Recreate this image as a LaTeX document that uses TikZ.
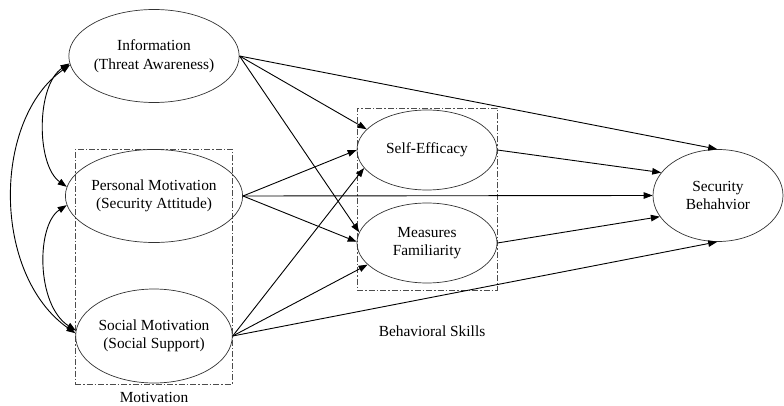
\documentclass[tikz,border=0pt]{standalone}
\usepackage{fontspec}
\setmainfont{Liberation Serif}
\usetikzlibrary{shapes.geometric,arrows.meta}
\begin{document}
\begin{tikzpicture}[x=1pt,y=-1pt,
  txt/.style={font=\fontsize{15.4}{18.5}\selectfont},
  ell/.style={ellipse,draw=black!80,line width=0.7pt,inner sep=0pt,align=center,txt},
  arr/.style={line width=0.9pt,-{Triangle[length=9pt,width=6.5pt]}},
  darr/.style={line width=0.9pt,{Triangle[length=9pt,width=6.5pt]}-{Triangle[length=9pt,width=6.5pt]}},
  grp/.style={draw=black!70,line width=0.7pt,dash pattern=on 6pt off 2pt on 1.5pt off 2pt,inner sep=0pt}]
\useasboundingbox (0,0) rectangle (784,406);
% groups
\node[grp,minimum width=157pt,minimum height=235pt] (mot) at (153.5,266.5) {};
\node[grp,minimum width=140pt,minimum height=182pt] (bsk) at (427,199) {};
% nodes
\node[ell,minimum width=156pt,minimum height=93pt] (I) at (154,56) {Information\\(Threat Awareness)};
\node[ell,minimum width=156pt,minimum height=93pt] (P) at (154,196) {Personal Motivation\\(Security Attitude)};
\node[ell,minimum width=156pt,minimum height=94pt] (S) at (154,336) {Social Motivation\\(Social Support)};
\node[ell,minimum width=140pt,minimum height=80pt] (SE) at (427,150) {Self-Efficacy};
\node[ell,minimum width=140pt,minimum height=80pt] (MF) at (427,243) {Measures\\Familiarity};
\node[ell,minimum width=130pt,minimum height=92pt] (SB) at (718,195.5) {Security\\Behahvior};
% labels
\node[txt] (motl) at (154,397) {Motivation};
\node[txt] (bskl) at (432,331) {Behavioral Skills};
% correlations
\draw[darr] (I.185) .. controls (36,85) and (36,165) .. (P.174);
\draw[darr] (P.186) .. controls (36,225) and (36,305) .. (S.176);
\draw[darr] (I.186) .. controls (-8,120) and (-8,275) .. (S.178);
% paths
\draw[arr] (I.east) -- (SE.161);
\draw[arr] (I.east) -- (MF.171);
\draw[arr] (I.east) -- (SB.91);
\draw[arr] (P.east) -- (SE.180);
\draw[arr] (P.east) -- (MF.179);
\draw[arr] (P.east) -- (SB.west);
\draw[arr] (S.east) -- (SE.196);
\draw[arr] (S.east) -- (MF.200);
\draw[arr] (S.east) -- (SB.269);
\draw[arr] (SE.east) -- (SB.158);
\draw[arr] (MF.east) -- (SB.200);
\end{tikzpicture}
\end{document}
